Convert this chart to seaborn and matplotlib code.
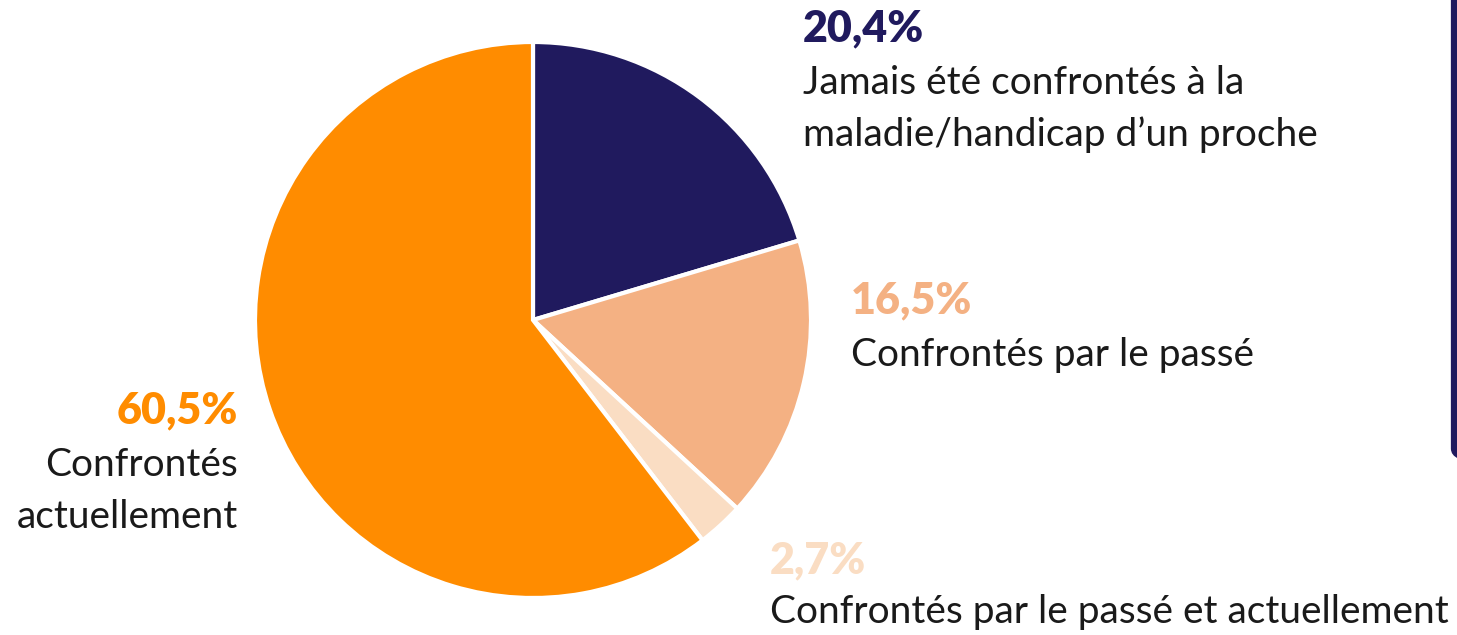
import matplotlib
matplotlib.use("Agg")
import matplotlib.pyplot as plt
import seaborn as sns
from matplotlib.patches import FancyBboxPatch

sns.set_theme(style="white")
plt.rcParams['font.family'] = ['Lato', 'DejaVu Sans']

categories = ["Jamais été confrontés à la\nmaladie/handicap d’un proche",
              "Confrontés par le passé",
              "Confrontés par le passé et actuellement",
              "Confrontés\nactuellement"]
values = [20.4, 16.5, 2.7, 60.5]
pct_labels = ["20,4%", "16,5%", "2,7%", "60,5%"]
colors = ["#201A5E", "#F4B183", "#FADDC3", "#FF8C00"]

W, H = 1457, 635
fig = plt.figure(figsize=(W / 100, H / 100), dpi=100)
fig.patch.set_facecolor("white")

cx, cy, r = 533, 320, 278
ax = fig.add_axes([(cx - r) / W, (H - cy - r) / H, 2 * r / W, 2 * r / H])
ax.pie(values, colors=colors, startangle=90, counterclock=False,
       wedgeprops=dict(edgecolor="white", linewidth=3), radius=1.0)
ax.set_xlim(-1, 1)
ax.set_ylim(-1, 1)
ax.set_aspect("equal")
ax.axis("off")

def ftext(x, y, s, **kw):
    fig.text(x / W, 1 - y / H, s, va="center", **kw)

fs_pct = 31
fs_lab = 28
txt = "#1A1A1A"
lh = 52

# 20,4%
ftext(803, 28, pct_labels[0], color=colors[0], fontsize=fs_pct, fontweight="heavy", ha="left")
for i, line in enumerate(categories[0].split("\n")):
    ftext(803, 83 + i * lh, line, color=txt, fontsize=fs_lab, ha="left")
# 16,5%
ftext(851, 300, pct_labels[1], color=colors[1], fontsize=fs_pct, fontweight="heavy", ha="left")
ftext(851, 355, categories[1], color=txt, fontsize=fs_lab, ha="left")
# 2,7%
ftext(770, 560, pct_labels[2], color=colors[2], fontsize=fs_pct, fontweight="heavy", ha="left")
ftext(770, 612, categories[2], color=txt, fontsize=fs_lab, ha="left")
# 60,5%
ftext(238, 410, pct_labels[3], color=colors[3], fontsize=fs_pct, fontweight="heavy", ha="right")
for i, line in enumerate(categories[3].split("\n")):
    ftext(238, 465 + i * lh, line, color=txt, fontsize=fs_lab, ha="right")

# partially visible rounded box on right edge
box = FancyBboxPatch((1454 / W, 1 - 458 / H), 0.2, 0.8,
                     boxstyle="round,pad=0,rounding_size=0.015",
                     transform=fig.transFigure, facecolor="none",
                     edgecolor="#201A5E", linewidth=4.5, clip_on=False)
fig.patches.append(box)

fig.savefig("out.png", dpi=100, facecolor="white")
